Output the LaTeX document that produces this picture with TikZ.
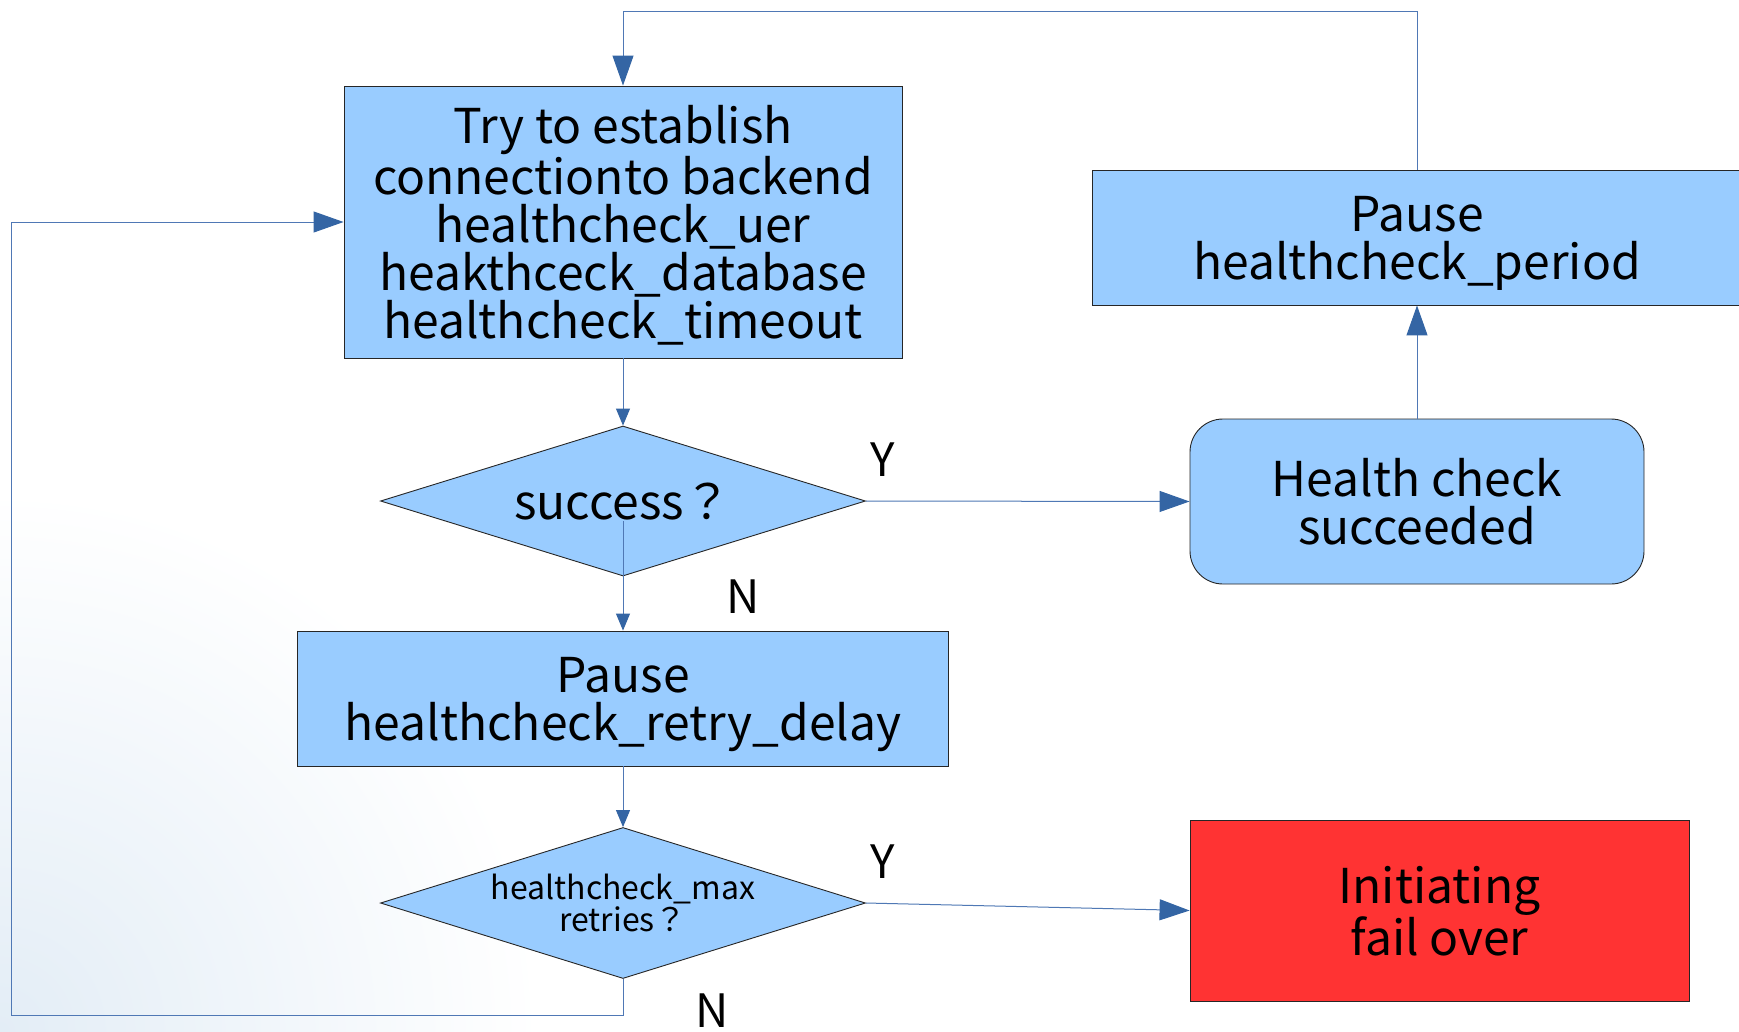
\documentclass[tikz,border=0pt]{standalone}
\usepackage{fontspec}
\setmainfont{Noto Sans CJK JP}
\usetikzlibrary{shapes.geometric,arrows.meta,calc}

\definecolor{boxblue}{HTML}{99CCFF}
\definecolor{alarm}{HTML}{FF3333}
\definecolor{wire}{HTML}{4F78B5}
\definecolor{tip}{HTML}{3465A4}
\definecolor{haze}{HTML}{E3EDF6}

\tikzset{
  base/.style={draw=black!85, line width=0.9pt, fill=boxblue, inner sep=0pt,
    align=center, text=black, text depth=0pt},
  bigtext/.style={font=\fontsize{48}{48}\selectfont},
  smalltext/.style={font=\fontsize{32}{32}\selectfont},
  procbox/.style={base, rectangle, bigtext},
  roundbox/.style={base, rectangle, rounded corners=33pt, bigtext},
  decision/.style={base, diamond, aspect=3.23},
  failbox/.style={base, rectangle, fill=alarm, bigtext},
  flow/.style={draw=wire, line width=1pt,
    -{Triangle[length=30pt,width=21pt,fill=tip,color=tip]}},
  shortflow/.style={draw=wire, line width=1pt,
    -{Triangle[length=17pt,width=14pt,fill=tip,color=tip]}},
  answer/.style={font=\fontsize{46}{48}\selectfont, text=black}
}

\begin{document}
\begin{tikzpicture}[x=1pt,y=-1pt]
  % page frame and soft backdrop in the lower left corner
  \fill[white] (0,0) rectangle (1739,1031);
  \begin{scope}
    \clip (0,0) rectangle (1739,1031);
    \shade[inner color=haze, outer color=white] (0,1031) circle (540);
  \end{scope}
  \useasboundingbox (0,0) rectangle (1739,1031);

  % process steps
  \node[procbox, minimum width=558pt, minimum height=272pt] (try) at (623,222)
    {Try to establish\\connectionto backend\\healthcheck\_uer\\heakthceck\_database\\healthcheck\_timeout};
  \node[decision, minimum width=485pt, minimum height=150pt,
        font=\fontsize{48}{48}\selectfont] (ok) at (623,501) {success？};
  \node[procbox, minimum width=651pt, minimum height=135pt] (retry) at (623,698.5)
    {Pause\\healthcheck\_retry\_delay};
  \node[decision, minimum width=485pt, minimum height=151pt, smalltext] (maxr) at (623,903)
    {healthcheck\_max\\retries？};
  \node[roundbox, minimum width=454pt, minimum height=165pt] (good) at (1417,501.5)
    {Health check\\succeeded};
  \node[procbox, minimum width=650pt, minimum height=135pt] (period) at (1417,237.5)
    {Pause\\healthcheck\_period};
  \node[failbox, minimum width=499pt, minimum height=181pt] (fail) at (1439.5,910.5)
    {Initiating\\fail over};

  % turning points of the two loops
  \coordinate (topline) at (0,11);
  \coordinate (loopcorner) at (11,1015);

  % connectors
  \draw[shortflow] (try.south) -- (ok.north);
  \draw[shortflow, shorten <=20pt] (ok.center) -- (retry.north);
  \draw[flow] (ok.east) -- (good.west);
  \draw[flow] (good.north) -- (period.south);
  \draw[flow] (period.north) -- (period.north |- topline) -| (try.north);
  \draw[shortflow] (retry.south) -- (maxr.north);
  \draw[flow] (maxr.east) -- (fail.west);
  \draw[flow] (maxr.south) |- (loopcorner) |- (try.west);

  % branch answers
  \node[answer] (y1) at (883,460) {Y};
  \node[answer] (n1) at (743,597) {N};
  \node[answer] (y2) at (883,862) {Y};
  \node[answer] (n2) at (712,1011) {N};
\end{tikzpicture}
\end{document}
